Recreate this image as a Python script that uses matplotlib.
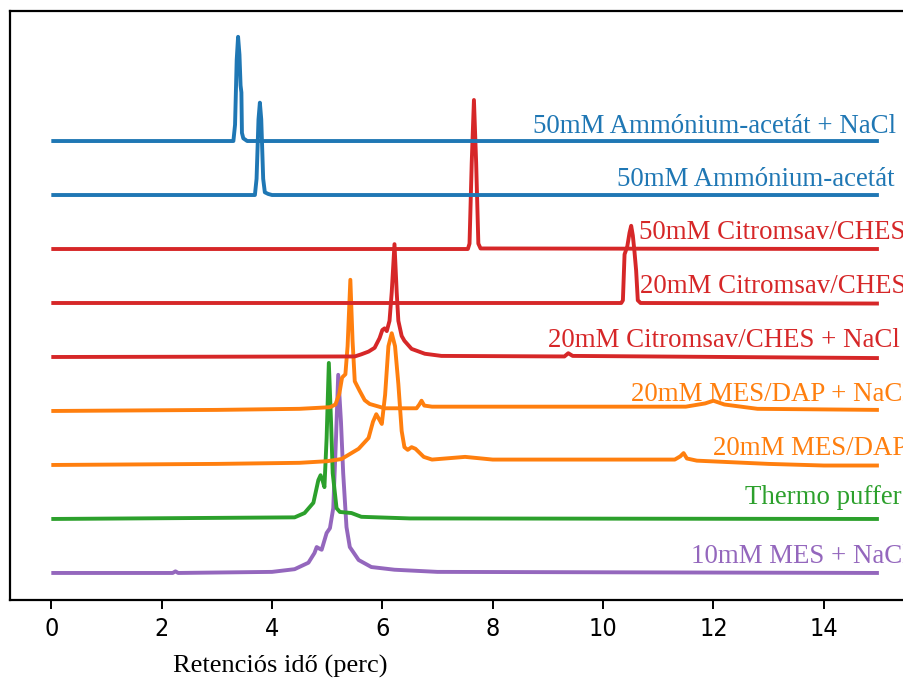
import matplotlib
matplotlib.use("Agg")
import matplotlib.pyplot as plt

# Chromatograms, bottom to top. Signal is normalised so that 1.0 equals the
# vertical spacing between two stacked traces.
labels = [
    "10mM MES + NaCl",
    "Thermo puffer",
    "20mM MES/DAP",
    "20mM MES/DAP + NaCl",
    "20mM Citromsav/CHES + NaCl",
    "20mM Citromsav/CHES",
    "50mM Citromsav/CHES",
    "50mM Ammónium-acetát",
    "50mM Ammónium-acetát + NaCl",
]
colors = ["tab:purple", "tab:green", "tab:orange", "tab:orange",
          "tab:red", "tab:red", "tab:red", "tab:blue", "tab:blue"]

# where each label starts (retention time) and how far above its trace it sits
label_x = [11.59, 12.57, 11.99, 10.51, 9.0, 10.67, 10.65, 10.25, 8.73]
label_lift = [0.185, 0.28, 0.185, 0.185, 0.185, 0.185, 0.185, 0.17, 0.15]

t_mes_nacl = [0, 2.2, 2.25, 2.3, 4.0, 4.41, 4.66, 4.77, 4.81, 4.86, 4.90, 4.99,
              5.05, 5.11, 5.16, 5.20, 5.25, 5.29, 5.35, 5.41, 5.57, 5.80, 6.22,
              7.0, 15]
s_mes_nacl = [0, 0, 0.03, 0, 0.02, 0.07, 0.19, 0.37, 0.48, 0.45, 0.43, 0.74,
              0.83, 1.2, 2.5, 3.67, 2.8, 1.85, 0.85, 0.48, 0.24, 0.11, 0.06,
              0.02, 0]

t_thermo = [0, 4.41, 4.59, 4.75, 4.84, 4.88, 4.92, 4.95, 4.99, 5.03, 5.07,
            5.10, 5.17, 5.23, 5.44, 5.62, 6.5, 15]
s_thermo = [0, 0.03, 0.11, 0.30, 0.72, 0.81, 0.70, 0.59, 1.5, 2.89, 1.8,
            0.85, 0.20, 0.13, 0.11, 0.04, 0.01, 0]

t_mesdap = [0, 3.0, 4.5, 5.0, 5.26, 5.57, 5.75, 5.83, 5.89, 5.94, 5.99, 6.05,
            6.11, 6.17, 6.23, 6.29, 6.35, 6.40, 6.46, 6.53, 6.60, 6.75, 6.9,
            7.5, 8.0, 11.3, 11.4, 11.46, 11.52, 11.7, 13.0, 14.0, 15]
s_mesdap = [0, 0.02, 0.04, 0.07, 0.11, 0.30, 0.50, 0.80, 0.94, 0.85, 0.76,
            1.3, 2.2, 2.44, 2.2, 1.5, 0.63, 0.33, 0.28, 0.33, 0.30, 0.15, 0.10,
            0.15, 0.10, 0.10, 0.16, 0.22, 0.12, 0.08, 0.02, -0.01, -0.01]

t_mesdap_nacl = [0, 3.0, 4.5, 5.05, 5.15, 5.22, 5.27, 5.33, 5.37, 5.42, 5.46,
                 5.50, 5.59, 5.68, 5.77, 6.04, 6.62, 6.67, 6.71, 6.76, 6.9,
                 9.0, 11.5, 11.85, 12.0, 12.2, 12.8, 15]
s_mesdap_nacl = [0, 0.02, 0.04, 0.07, 0.12, 0.32, 0.62, 0.68, 1.2, 2.43, 1.3,
                 0.55, 0.37, 0.20, 0.13, 0.05, 0.05, 0.12, 0.19, 0.10, 0.08,
                 0.08, 0.08, 0.14, 0.19, 0.12, 0.04, 0.02]

t_cit20_nacl = [0, 5.5, 5.62, 5.75, 5.86, 5.95, 6.0, 6.04, 6.08, 6.13, 6.17,
                6.22, 6.26, 6.29, 6.35, 6.40, 6.53, 6.77, 7.07, 9.3, 9.37,
                9.45, 15]
s_cit20_nacl = [0, 0.01, 0.05, 0.10, 0.17, 0.35, 0.50, 0.53, 0.48, 0.67, 1.2,
                2.09, 1.2, 0.67, 0.39, 0.30, 0.15, 0.06, 0.02, 0.01, 0.07,
                0.02, -0.02]

t_cit20 = [0, 10.33, 10.36, 10.39, 10.44, 10.48, 10.51, 10.54, 10.57, 10.60,
           10.63, 10.68, 15]
s_cit20 = [0, 0, 0.05, 0.9, 1.05, 1.3, 1.43, 1.25, 0.95, 0.6, 0.05, 0, -0.01]

t_cit50 = [0, 7.55, 7.58, 7.62, 7.66, 7.70, 7.74, 7.78, 15]
s_cit50 = [0, 0, 0.1, 1.6, 2.76, 1.6, 0.1, 0.01, 0]

t_amac = [0, 3.69, 3.72, 3.755, 3.78, 3.805, 3.84, 3.87, 3.93, 4.0, 15]
s_amac = [0, 0, 0.3, 1.4, 1.71, 1.4, 0.3, 0.05, 0.02, 0, 0]

t_amac_nacl = [0, 3.30, 3.33, 3.36, 3.385, 3.41, 3.43, 3.445, 3.455, 3.48,
               3.55, 15]
s_amac_nacl = [0, 0, 0.3, 1.5, 1.93, 1.6, 1.03, 0.9, 0.15, 0.05, 0, 0]

traces = [
    (t_mes_nacl, s_mes_nacl),
    (t_thermo, s_thermo),
    (t_mesdap, s_mesdap),
    (t_mesdap_nacl, s_mesdap_nacl),
    (t_cit20_nacl, s_cit20_nacl),
    (t_cit20, s_cit20),
    (t_cit50, s_cit50),
    (t_amac, s_amac),
    (t_amac_nacl, s_amac_nacl),
]

fig = plt.figure(figsize=(9.04, 6.81), dpi=100)
ax = fig.add_axes([0.011, 0.119, 1.007, 0.865])

for i, ((t, s), lab, c) in enumerate(zip(traces, labels, colors)):
    ax.plot(t, [v + i for v in s], color=c, lw=2.8,
            solid_joinstyle="round", solid_capstyle="butt")
    ax.text(label_x[i], i + label_lift[i], lab, color=c, ha="left",
            va="baseline", family="Liberation Serif", fontsize=19.4,
            clip_on=False)

ax.set_xlim(-0.75, 15.75)
ax.set_ylim(-0.5, 10.41)
ax.set_xticks(range(0, 15, 2))
ax.set_yticks([])
for sp in ax.spines.values():
    sp.set_linewidth(1.6)
ax.tick_params(axis="x", length=6.5, width=1.4, pad=6)
for lbl in ax.get_xticklabels():
    lbl.set_family("DejaVu Sans")
    lbl.set_fontstretch("condensed")
    lbl.set_fontsize(18)

ax.set_xlabel("Retenciós idő (perc)", family="Liberation Serif", fontsize=19,
              x=0.297, labelpad=10)

fig.savefig("out.png", dpi=100)
